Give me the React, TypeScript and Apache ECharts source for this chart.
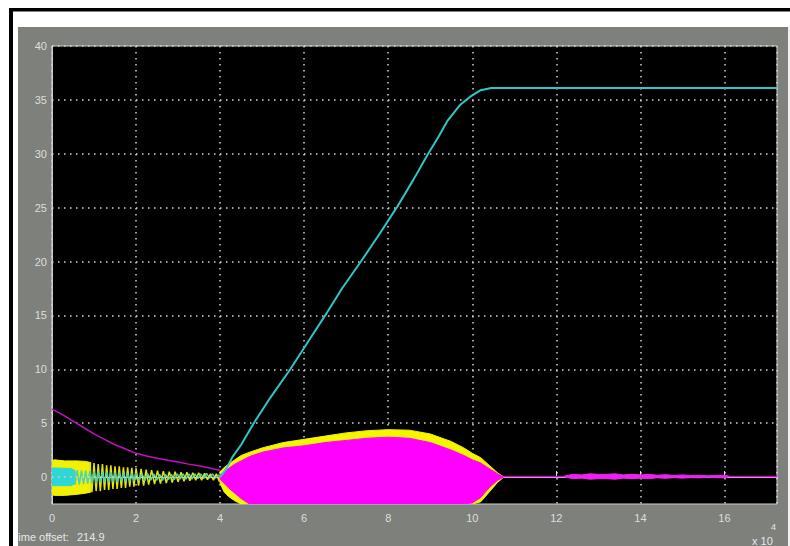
import { useEffect, useRef } from 'react';
import * as echarts from 'echarts';

// Axis ticks (x in units of 10^4)
const yTicks = [0, 5, 10, 15, 20, 25, 30, 35, 40];
const xTicks = [0, 2, 4, 6, 8, 10, 12, 14, 16];

// Cyan: ramp and plateau
const cyanRamp: [number, number][] = [
  [4.0, 0.0], [4.15, 0.8], [4.3, 1.9], [4.5, 3.0], [4.8, 5.0], [5.2, 7.4], [5.67, 10.0],
  [6.1, 12.6], [6.5, 15.0], [6.9, 17.5], [7.35, 20.0], [7.8, 22.6], [8.2, 25.0],
  [8.6, 27.6], [8.95, 30.0], [9.2, 31.6], [9.4, 33.0], [9.7, 34.5], [9.95, 35.3],
  [10.2, 35.9], [10.45, 36.1], [17.25, 36.1],
];

// Magenta slowly decaying trace before 4e4
const magentaDecay: [number, number][] = [
  [0.0, 6.3], [0.25, 5.8], [0.5, 5.2], [0.75, 4.6], [1.0, 4.0], [1.25, 3.5], [1.5, 3.0],
  [1.75, 2.6], [2.0, 2.2], [2.25, 1.95], [2.5, 1.75], [2.75, 1.55], [3.0, 1.4],
  [3.25, 1.2], [3.5, 1.05], [3.75, 0.85], [4.0, 0.6],
];

// Magenta flat tail after 10.75e4
const magentaTail: [number, number][] = [[10.75, 0.05], [17.25, 0.05]];

// Early dense yellow oscillation (envelope)
const yellowEarlyX = [0.0, 0.05, 0.3, 0.6, 0.8, 0.92];
const yellowEarlyUpper = [1.5, 1.6, 1.5, 1.5, 1.45, 1.35];
const yellowEarlyLower = [-1.6, -1.7, -1.7, -1.6, -1.5, -1.4];

// Early dense cyan oscillation (envelope)
const cyanEarlyX = [0.0, 0.45, 0.55];
const cyanEarlyUpper = [0.85, 0.8, 0.6];
const cyanEarlyLower = [-0.8, -0.8, -0.6];

// Yellow visible oscillation, 0.9e4 – 4e4
const yellowWave: [number, number][] = [
  [0.9, 1.3], [0.95, -1.4], [1.0, 1.3], [1.05, -1.3], [1.1, 1.2], [1.15, -1.3], [1.2, 1.2],
  [1.25, -1.2], [1.3, 1.1], [1.35, -1.2], [1.4, 1.1], [1.45, -1.1], [1.5, 1.0], [1.55, -1.1],
  [1.6, 1.0], [1.65, -1.0], [1.7, 0.9], [1.75, -1.0], [1.8, 0.9], [1.85, -0.9], [1.9, 0.85],
  [1.95, -0.9], [2.0, 0.8], [2.06, -0.8], [2.12, 0.75], [2.18, -0.8], [2.24, 0.7], [2.3, -0.7],
  [2.37, 0.65], [2.44, -0.65], [2.51, 0.6], [2.58, -0.6], [2.65, 0.55], [2.72, -0.55],
  [2.79, 0.5], [2.86, -0.5], [2.93, 0.5], [3.0, -0.45], [3.07, 0.45], [3.14, -0.4],
  [3.21, 0.45], [3.28, -0.35], [3.35, 0.4], [3.42, -0.3], [3.49, 0.4], [3.56, -0.3],
  [3.63, 0.35], [3.7, -0.25], [3.77, 0.3], [3.84, -0.3], [3.91, 0.3], [3.98, -0.4], [4.05, 0.5],
];

// Cyan visible oscillation, 0.5e4 – 4e4
const cyanWave: [number, number][] = [
  [0.5, 0.7], [0.55, -0.7], [0.6, 0.65], [0.65, -0.7], [0.7, 0.6], [0.75, -0.65], [0.8, 0.6],
  [0.85, -0.6], [0.9, 0.55], [0.95, -0.6], [1.0, 0.5], [1.05, -0.55], [1.1, 0.5], [1.15, -0.5],
  [1.2, 0.5], [1.25, -0.5], [1.3, 0.45], [1.35, -0.5], [1.4, 0.45], [1.45, -0.45], [1.5, 0.4],
  [1.55, -0.45], [1.6, 0.4], [1.65, -0.4], [1.7, 0.4], [1.75, -0.4], [1.8, 0.35], [1.85, -0.4],
  [1.9, 0.35], [1.95, -0.35], [2.0, 0.35], [2.07, -0.35], [2.14, 0.3], [2.21, -0.35],
  [2.28, 0.3], [2.35, -0.3], [2.42, 0.3], [2.49, -0.3], [2.56, 0.25], [2.63, -0.3],
  [2.7, 0.25], [2.77, -0.25], [2.84, 0.25], [2.91, -0.25], [2.98, 0.3], [3.05, -0.2],
  [3.12, 0.3], [3.19, -0.2], [3.26, 0.3], [3.33, -0.2], [3.4, 0.3], [3.47, -0.15], [3.54, 0.3],
  [3.61, -0.15], [3.68, 0.35], [3.75, -0.1], [3.82, 0.3], [3.89, -0.1], [3.96, 0.2], [4.0, 0.0],
];

// Main oscillation envelopes, 4e4 – 10.75e4
const bandX = [4.0, 4.1, 4.2, 4.35, 4.5, 4.7, 5.0, 5.5, 6.0, 6.5, 7.0, 7.5, 8.0, 8.5, 9.0, 9.5, 9.8, 10.0, 10.2, 10.4, 10.6, 10.75];
const yellowUpper = [0.5, 0.9, 1.2, 1.6, 2.0, 2.3, 2.7, 3.2, 3.5, 3.8, 4.1, 4.3, 4.4, 4.35, 4.0, 3.3, 2.7, 2.2, 1.8, 1.1, 0.4, 0.0];
const yellowLower = [-0.6, -1.4, -1.8, -2.2, -2.5, -2.5, -2.5, -2.5, -2.5, -2.5, -2.5, -2.5, -2.5, -2.5, -2.5, -2.5, -2.5, -2.5, -2.3, -1.4, -0.5, 0.0];
const magentaUpper = [0.2, 0.5, 0.8, 1.2, 1.5, 1.9, 2.3, 2.7, 2.9, 3.2, 3.4, 3.6, 3.7, 3.6, 3.2, 2.5, 2.0, 1.6, 1.3, 0.8, 0.3, 0.0];
const magentaLower = [-0.2, -0.6, -1.0, -1.5, -2.0, -2.5, -2.5, -2.5, -2.5, -2.5, -2.5, -2.5, -2.5, -2.5, -2.5, -2.5, -2.5, -2.4, -1.9, -1.0, -0.3, 0.0];

// Small magenta noise on the tail
const tailX = [12.2, 12.4, 12.6, 12.8, 13.0, 13.2, 13.4, 13.6, 13.8, 14.0, 14.2, 14.4, 14.6, 14.8, 15.0, 15.2, 15.4, 15.6, 15.8, 16.0, 16.1];
const tailUpper = [0.1, 0.25, 0.2, 0.3, 0.25, 0.25, 0.3, 0.2, 0.25, 0.2, 0.25, 0.17, 0.22, 0.15, 0.2, 0.15, 0.17, 0.12, 0.15, 0.17, 0.08];
const tailLower = [0.0, -0.15, -0.1, -0.2, -0.15, -0.15, -0.2, -0.1, -0.15, -0.1, -0.15, -0.07, -0.12, -0.05, -0.1, -0.05, -0.07, -0.02, -0.05, -0.07, 0.02];

// Envelope band drawn as one polygon through the chart's own coordinate system
function band(x: number[], upper: number[], lower: number[], color: string, z: number) {
  return {
    type: 'custom',
    z,
    silent: true,
    clip: true,
    data: x.map((v, i) => [v, upper[i], lower[i]]),
    encode: { x: 0, y: [1, 2] },
    renderItem: (params: any, api: any) => {
      if (params.dataIndex !== 0) return null;
      const pts: number[][] = [];
      for (let i = 0; i < x.length; i++) pts.push(api.coord([x[i], upper[i]]));
      for (let i = x.length - 1; i >= 0; i--) pts.push(api.coord([x[i], lower[i]]));
      return {
        type: 'polygon',
        shape: { points: pts },
        style: { fill: color, stroke: color, lineWidth: 1 },
      };
    },
  };
}

const FONT = 'Liberation Sans, Arial, sans-serif';
const LABEL = '#dedede';
const GRID = '#d4d4d4';

export default function App() {
  const ref = useRef<HTMLDivElement>(null);
  useEffect(() => {
    if (!ref.current) return;
    const chart = echarts.init(ref.current, undefined, { renderer: 'svg' });
    const option: any = {
      animation: false,
      backgroundColor: '#7d807b',
      grid: {
        left: 52, right: 13, top: 46, bottom: 42, show: true,
        backgroundColor: '#000000', borderColor: '#d0d0d0', borderWidth: 1,
      },
      xAxis: {
        type: 'value', min: 0, max: 17.25, interval: 2,
        axisLine: { show: true, lineStyle: { color: '#d0d0d0' } },
        axisTick: { show: true, inside: true, length: 6, lineStyle: { color: '#e0e0e0' } },
        axisLabel: {
          color: LABEL, fontSize: 11, fontFamily: FONT, margin: 8, showMaxLabel: false,
          formatter: (v: number) => (xTicks.includes(v) ? String(v) : ''),
        },
        splitLine: { show: true, lineStyle: { color: GRID, type: [1.5, 4.5], width: 1.5 } },
      },
      yAxis: {
        type: 'value', min: -2.5, max: 40, interval: 2.5,
        axisLine: { show: true, lineStyle: { color: '#d0d0d0' } },
        axisTick: { show: false },
        axisLabel: {
          color: LABEL, fontSize: 11, fontFamily: FONT, margin: 5,
          formatter: (v: number) => (yTicks.includes(v) ? String(v) : ''),
        },
        splitLine: { show: false },
      },
      series: [
        {
          type: 'line', z: 1, symbol: 'none', silent: true, data: [[0, 0]],
          lineStyle: { opacity: 0 },
          markLine: {
            silent: true, symbol: ['none', 'none'], label: { show: false },
            lineStyle: { color: GRID, type: [1.5, 4.5], width: 1.5 },
            data: yTicks.map((v) => ({ yAxis: v })),
          },
        },
        band(yellowEarlyX, yellowEarlyUpper, yellowEarlyLower, '#f2f200', 2),
        {
          type: 'line', z: 3, symbol: 'none', silent: true, data: yellowWave,
          lineStyle: { color: '#e6e600', width: 1.5 },
        },
        band(cyanEarlyX, cyanEarlyUpper, cyanEarlyLower, '#2fd6d6', 4),
        {
          type: 'line', z: 4, symbol: 'none', silent: true, data: cyanWave,
          lineStyle: { color: '#4cd2b4', width: 1.5 },
        },
        {
          type: 'line', z: 5, symbol: 'none', silent: true, data: magentaDecay,
          lineStyle: { color: '#c010c0', width: 1.5 },
        },
        band(bandX, yellowUpper, yellowLower, '#f5f500', 6),
        band(bandX, magentaUpper, magentaLower, '#ff00ff', 7),
        {
          type: 'line', z: 7, symbol: 'none', silent: true, data: magentaTail,
          lineStyle: { color: '#d000d0', width: 1.5 },
        },
        band(tailX, tailUpper, tailLower, '#ee22ee', 8),
        {
          type: 'line', z: 9, symbol: 'none', silent: true, data: cyanRamp,
          lineStyle: { color: '#2ec6c6', width: 2 },
        },
      ],
      graphic: [
        { type: 'text', z: 5, x: 12, y: 531, style: { text: 'Time offset:', fill: '#e8e8e8', font: `11px ${FONT}` } },
        { type: 'text', z: 5, x: 77, y: 531, style: { text: '214.9', fill: '#e8e8e8', font: `11px ${FONT}` } },
        { type: 'text', z: 5, x: 752, y: 535, style: { text: 'x 10', fill: '#e8e8e8', font: `11px ${FONT}` } },
        { type: 'text', z: 5, x: 771, y: 522, style: { text: '4', fill: '#e8e8e8', font: `9px ${FONT}` } },
        { type: 'rect', z: 10, shape: { x: 0, y: 0, width: 790, height: 27 }, style: { fill: '#ffffff' } },
        { type: 'rect', z: 10, shape: { x: 0, y: 0, width: 18, height: 546 }, style: { fill: '#ffffff' } },
        { type: 'rect', z: 10, shape: { x: 788, y: 27, width: 2, height: 519 }, style: { fill: '#f0f0f0' } },
        { type: 'rect', z: 11, shape: { x: 9, y: 8, width: 781, height: 3.5 }, style: { fill: '#000000' } },
        { type: 'rect', z: 11, shape: { x: 9, y: 8, width: 4, height: 538 }, style: { fill: '#000000' } },
      ],
    };
    chart.setOption(option);
    return () => chart.dispose();
  }, []);
  return <div ref={ref} style={{ position: 'absolute', left: 0, top: 0, width: 790, height: 546 }} />;
}
